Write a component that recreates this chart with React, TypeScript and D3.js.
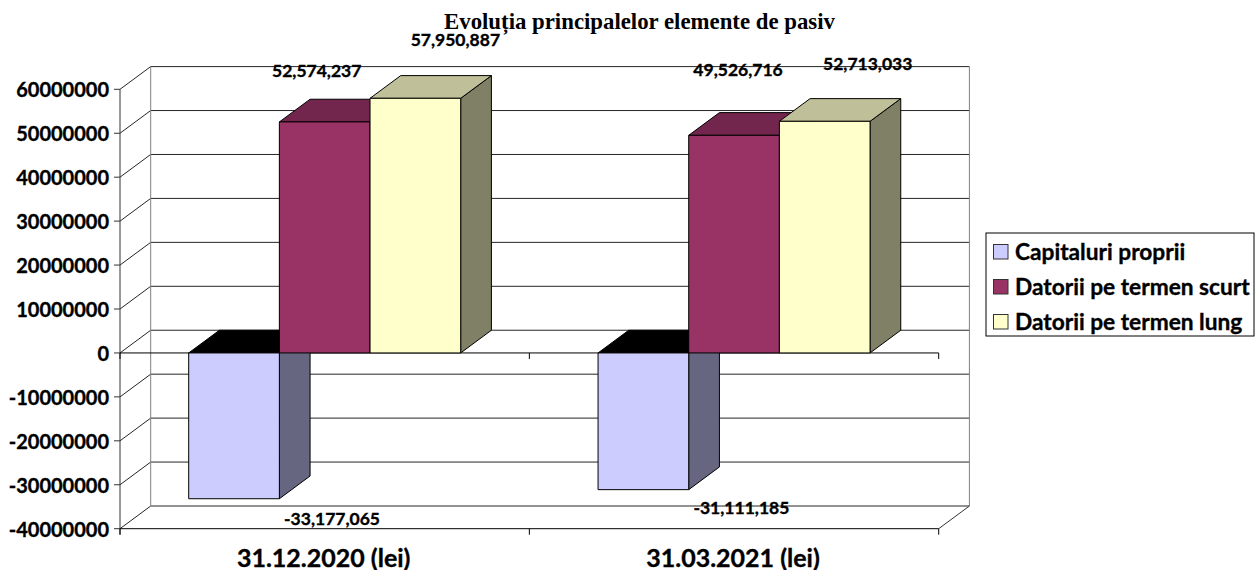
import React from "react";
import * as d3 from "d3";

const categories = ["31.12.2020 (lei)", "31.03.2021 (lei)"];
const seriesNames = ["Capitaluri proprii", "Datorii pe termen scurt", "Datorii pe termen lung"];
const capitaluri = [-33177065, -31111185];
const datoriiScurt = [52574237, 49526716];
const datoriiLung = [57950887, 52713033];
const seriesValues = [capitaluri, datoriiScurt, datoriiLung];

// Face colours per series: front, top, side.
const frontColors = ["#CCCCFF", "#993366", "#FFFFCC"];
const topColors = ["#000000", "#73264D", "#BFBF99"];
const sideColors = ["#666680", "#73264D", "#808066"];

// Hand-placed data labels: centre offset from the bar's front face centre, baseline offset from the value.
const labelShifts = [
  [[98, 26], [-8, -45], [40, -52]],
  [[98, 24], [4, -59], [43, -51]],
];

const W = 1255;
const H = 570;
const DX = 30.7;
const DY = -22.7;
const axisFont = "Lato, Carlito, sans-serif";
// A hairline outline thickens the sans labels to a heavier bold.
const heavy = { stroke: "#000", strokeWidth: 0.35 };

const y = d3.scaleLinear().domain([-40000000, 60000000]).range([528.7, 89.3]);
const x0 = d3.scaleBand<string>().domain(categories).range([120, 938.7]);
const x1 = d3.scaleBand<string>().domain(seriesNames).range([68.7, 340.7]);
const ticks = y.ticks(10);
const fmt = d3.formatLocale({
  decimal: ".",
  thousands: ",",
  grouping: [3],
  currency: ["", ""],
  minus: "-",
}).format(",");

const [left, right] = x0.range();

function Bar({ x, w, v, s }: { x: number; w: number; v: number; s: number }) {
  const a = y(Math.max(v, 0));
  const b = y(Math.min(v, 0));
  const pts = (p: number[][]) => p.map((q) => q.join(",")).join(" ");
  return (
    <g stroke="#000" strokeWidth={1} strokeLinejoin="round">
      <polygon
        fill={sideColors[s]}
        points={pts([[x + w, a], [x + w + DX, a + DY], [x + w + DX, b + DY], [x + w, b]])}
      />
      <polygon
        fill={topColors[s]}
        points={pts([[x, a], [x + DX, a + DY], [x + w + DX, a + DY], [x + w, a]])}
      />
      <rect x={x} y={a} width={w} height={b - a} fill={frontColors[s]} />
    </g>
  );
}

export default function App() {
  return (
    <svg
      width={W}
      height={H}
      viewBox={`0 0 ${W} ${H}`}
      style={{ position: "absolute", left: 0, top: 0, background: "#fff" }}
    >
      <text
        x={639.5}
        y={29}
        textAnchor="middle"
        fontFamily="'Liberation Serif', serif"
        fontWeight="bold"
        fontSize={22.8}
        fill="#000"
      >
        Evoluția principalelor elemente de pasiv
      </text>

      {/* Back wall, side wall and floor of the 3D frame */}
      {ticks.map((t) => (
        <g key={t} stroke="#000" strokeWidth={1} opacity={0.85}>
          <line x1={left + DX} x2={right + DX} y1={y(t) + DY} y2={y(t) + DY} />
          <line x1={left} x2={left + DX} y1={y(t)} y2={y(t) + DY} />
        </g>
      ))}
      <line x1={left + DX} x2={left + DX} y1={y(60000000) + DY} y2={y(-40000000) + DY} stroke="#808080" />
      <line x1={right + DX} x2={right + DX} y1={y(60000000) + DY} y2={y(-40000000) + DY} stroke="#808080" />
      <line x1={right} x2={right + DX} y1={y(-40000000)} y2={y(-40000000) + DY} stroke="#333" />

      {/* Value axis */}
      <line x1={left} x2={left} y1={y(60000000)} y2={y(-40000000) + 6} stroke="#333" />
      {ticks.map((t) => (
        <g key={t}>
          <line x1={left - 6} x2={left} y1={y(t)} y2={y(t)} stroke="#333" />
          <text
            x={109}
            y={y(t) + 8}
            textAnchor="end"
            fontFamily={axisFont}
            fontWeight="bold"
            fontSize={20}
            fill="#000"
            {...heavy}
          >
            {t}
          </text>
        </g>
      ))}

      {/* Category axes at zero and at the floor */}
      {[0, -40000000].map((v) => (
        <g key={v} stroke="#000">
          <line x1={left} x2={right} y1={y(v)} y2={y(v)} />
          {[left, left + x0.bandwidth(), right].map((px) => (
            <line key={px} x1={px} x2={px} y1={y(v)} y2={y(v) + 6} />
          ))}
        </g>
      ))}

      {/* Bars run left to right so each one covers its neighbour's side */}
      {categories.map((c, ci) =>
        seriesNames.map((n, si) => (
          <Bar
            key={c + n}
            x={(x0(c) as number) + (x1(n) as number)}
            w={x1.bandwidth()}
            v={seriesValues[si][ci]}
            s={si}
          />
        ))
      )}

      {/* Data labels */}
      {categories.map((c, ci) =>
        seriesNames.map((n, si) => {
          const v = seriesValues[si][ci];
          const [sx, sy] = labelShifts[ci][si];
          const cx = (x0(c) as number) + (x1(n) as number) + x1.bandwidth() / 2;
          return (
            <text
              key={c + n}
              x={cx + sx}
              y={y(v) + sy}
              textAnchor="middle"
              fontFamily={axisFont}
              fontWeight="bold"
              fontSize={17.5}
              fill="#000"
              {...heavy}
            >
              {fmt(v)}
            </text>
          );
        })
      )}

      {/* Category labels */}
      {categories.map((c) => (
        <text
          key={c}
          x={(x0(c) as number) + x0.bandwidth() / 2 - 1}
          y={566.5}
          textAnchor="middle"
          fontFamily={axisFont}
          fontWeight="bold"
          fontSize={25}
          fill="#000"
          {...heavy}
        >
          {c}
        </text>
      ))}

      {/* Legend */}
      <rect x={986} y={233} width={268} height={103} fill="#fff" stroke="#000" />
      {seriesNames.map((n, i) => (
        <g key={n}>
          <rect
            x={993.5}
            y={244.5 + i * 35}
            width={14.5}
            height={14.5}
            fill={frontColors[i]}
            stroke="#333"
          />
          <text
            x={1015}
            y={260 + i * 35}
            fontFamily={axisFont}
            fontWeight="bold"
            fontSize={22.7}
            fill="#000"
            {...heavy}
          >
            {n}
          </text>
        </g>
      ))}
    </svg>
  );
}
